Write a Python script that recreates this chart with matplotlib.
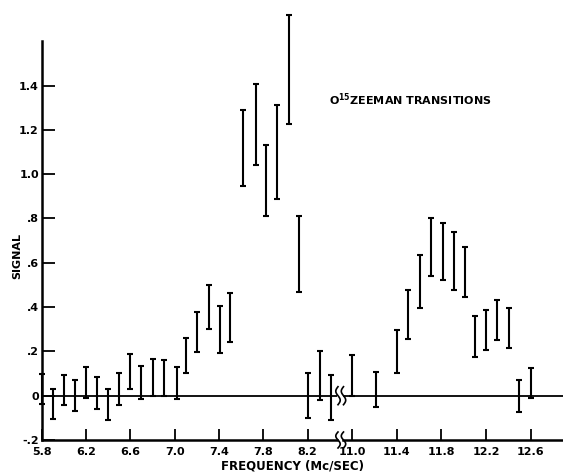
import numpy as np
import matplotlib
matplotlib.use("Agg")
import matplotlib.pyplot as plt
from matplotlib.lines import Line2D

# Measured signal ranges (lower / upper end of each error bar)
low_band_freq = [5.8, 5.9, 6.0, 6.1, 6.2, 6.3, 6.4, 6.5, 6.6, 6.7, 6.8, 6.9,
                 7.02, 7.1, 7.2, 7.31, 7.41, 7.5,
                 7.62, 7.73, 7.82, 7.92, 8.03, 8.12,
                 8.2, 8.31, 8.41]
low_band_hi = [0.097, 0.032, 0.095, 0.069, 0.131, 0.083, 0.030, 0.101, 0.190, 0.134, 0.164, 0.163,
               0.128, 0.260, 0.376, 0.500, 0.404, 0.464,
               1.288, 1.407, 1.132, 1.312, 1.720, 0.811,
               0.102, 0.203, 0.095]
low_band_lo = [-0.039, -0.107, -0.042, -0.071, -0.012, -0.061, -0.110, -0.041, 0.030, -0.013, 0.0, 0.0,
               -0.015, 0.101, 0.199, 0.301, 0.193, 0.244,
               0.948, 1.042, 0.811, 0.888, 1.225, 0.470,
               -0.102, -0.021, -0.110]

high_band_freq = [11.0, 11.21, 11.4, 11.5, 11.61, 11.71, 11.81, 11.91, 12.01,
                  12.1, 12.2, 12.3, 12.41, 12.5, 12.6]
high_band_hi = [0.182, 0.106, 0.297, 0.477, 0.637, 0.804, 0.781, 0.738, 0.670,
                0.361, 0.387, 0.433, 0.397, 0.071, 0.126]
high_band_lo = [-0.003, -0.051, 0.102, 0.257, 0.397, 0.540, 0.522, 0.476, 0.446,
                0.176, 0.206, 0.253, 0.217, -0.074, -0.009]

low_xticks = [5.8, 6.2, 6.6, 7.0, 7.4, 7.8, 8.2]
low_xticklabels = ["5.8", "6.2", "6.6", "7.0", "7.4", "7.8", "8.2"]
high_xticks = [11.0, 11.4, 11.8, 12.2, 12.6]
high_xticklabels = ["11.0", "11.4", "11.8", "12.2", "12.6"]
yticks = [-0.2, 0.0, 0.2, 0.4, 0.6, 0.8, 1.0, 1.2, 1.4]
yticklabels = ["-.2", "0", ".2", ".4", ".6", ".8", "1.0", "1.2", "1.4"]

FONT = "DejaVu Sans"
plt.rcParams["font.family"] = FONT
plt.rcParams["mathtext.default"] = "regular"

W, H = 563, 472
fig = plt.figure(figsize=(W / 100, H / 100), dpi=100)

bottom = 32 / H
height = 438.6 / H
ax1 = fig.add_axes([41.7 / W, bottom, 295.3 / W, height])
ax2 = fig.add_axes([343 / W, bottom, 220 / W, height])

ylim = (-0.2, 1.78)
ax1.set_xlim(5.8, 8.465)
ax2.set_xlim(10.916, 12.891)


def draw_bars(ax, freq, lo, hi):
    lo = np.asarray(lo)
    hi = np.asarray(hi)
    mid = (lo + hi) / 2
    err = (hi - lo) / 2
    ax.errorbar(freq, mid, yerr=err, fmt="none", ecolor="black",
                elinewidth=1.5, capsize=2.4, capthick=1.5, clip_on=False)
    ax.axhline(0, color="black", lw=1.3, zorder=1)


draw_bars(ax1, low_band_freq, low_band_lo, low_band_hi)
draw_bars(ax2, high_band_freq, high_band_lo, high_band_hi)

tick_font = dict(family=FONT, weight="bold", size=8)

for ax in (ax1, ax2):
    ax.set_ylim(*ylim)
    ax.spines["top"].set_visible(False)
    ax.spines["right"].set_visible(False)
    ax.spines["bottom"].set_linewidth(1.8)
    ax.tick_params(axis="x", direction="in", length=8, width=1.3, pad=5)
    ax.patch.set_alpha(0)

ax1.spines["left"].set_linewidth(1.8)
ax1.spines["left"].set_bounds(-0.2, 1.6)
ax1.set_yticks(yticks)
ax1.set_yticklabels(yticklabels, fontdict=tick_font)
ax1.tick_params(axis="y", direction="in", length=9.5, width=1.3, pad=2)
ax1.set_xticks(low_xticks)
ax1.set_xticklabels(low_xticklabels, fontdict=tick_font)

ax2.spines["left"].set_visible(False)
ax2.set_yticks([])
ax2.set_xticks(high_xticks)
ax2.set_xticklabels(high_xticklabels, fontdict=tick_font)

ax1.set_ylabel("SIGNAL", fontdict=dict(family=FONT, weight="bold", size=8))
ax1.yaxis.set_label_coords(-0.066, 0.42)

fig.text(292.5 / W, 1 - 466 / H, "FREQUENCY (Mc/SEC)", ha="center", va="center",
         family=FONT, weight="bold", size=8.5)

ax1.text(0.973, 0.775, "O$^{15}$ZEEMAN TRANSITIONS", transform=ax1.transAxes,
         ha="left", va="center", family=FONT, weight="bold", size=8)

# Axis-break squiggles on the zero line and on the frequency axis
fig.canvas.draw()
t = np.linspace(0, 1, 40)
gap_left = ax1.get_position().x1 * W
gap_right = ax2.get_position().x0 * W
for ax_y, half in ((ax1.transData.transform((5.8, 0.0))[1], 9),
                   (ax1.transData.transform((5.8, -0.2))[1], 8)):
    for cx in (gap_left + 1.0, gap_right + 0.5):
        xs = cx + 2.2 * np.sin(2 * np.pi * t)
        ys = ax_y + half * (2 * t - 1)
        fig.add_artist(Line2D(xs / W, ys / H, transform=fig.transFigure,
                              color="black", lw=1.2))

fig.savefig("out.png", dpi=100)
